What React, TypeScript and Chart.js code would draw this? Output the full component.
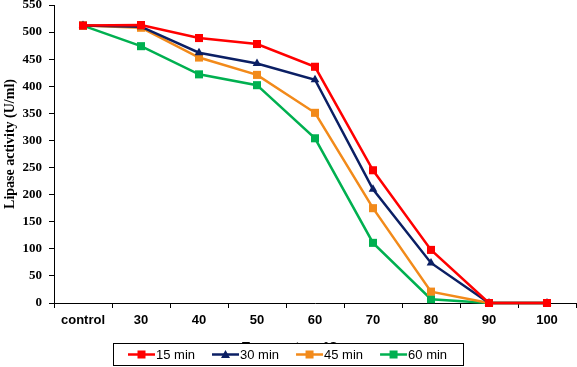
import React, { useEffect, useRef } from "react";
import { Chart, registerables } from "chart.js";

Chart.register(...registerables);

const categories = ["control", "30", "40", "50", "60", "70", "80", "90", "100"];
const seriesNames = ["15 min", "30 min", "45 min", "60 min"];
const min15 = [512, 513, 489, 478, 436, 245, 98, 0, 0];
const min30 = [512, 510, 462, 442, 412, 210, 74, 0, 0];
const min45 = [512, 508, 453, 421, 351, 175, 21, 0, 0];
const min60 = [512, 474, 422, 402, 304, 111, 7, 0, 0];
const colors = ["#FF0000", "#0B1F64", "#F28A1A", "#00B050"];
const pointStyles = ["rect", "triangle", "rect", "rect"];
const xTitle = "Temperature °C";
const yTitle = "Lipase activity (U/ml)";

const overlayPlugin = {
  id: "overlay",
  afterDraw(chart: any) {
    const ctx = chart.ctx;
    ctx.save();
    ctx.fillStyle = "#000";
    ctx.font = "bold 14px 'Liberation Serif', 'Times New Roman', serif";
    ctx.textAlign = "center";
    ctx.textBaseline = "middle";
    ctx.translate(10, 144);
    ctx.rotate(-Math.PI / 2);
    ctx.fillText(yTitle, 0, 0);
    ctx.restore();

    ctx.save();
    ctx.fillStyle = "#000";
    ctx.font = "bold 13px 'Liberation Sans', Arial, sans-serif";
    ctx.textAlign = "center";
    ctx.textBaseline = "alphabetic";
    ctx.fillText(xTitle, 290, 351);

    const bx = 113, by = 343, bw = 350, bh = 23;
    ctx.fillStyle = "#fff";
    ctx.fillRect(bx, by, bw, bh);
    ctx.strokeStyle = "#000";
    ctx.lineWidth = 1;
    ctx.strokeRect(bx + 0.5, by + 0.5, bw, bh - 1);

    ctx.font = "13px 'Liberation Sans', Arial, sans-serif";
    ctx.textAlign = "left";
    ctx.textBaseline = "middle";
    let x = 128;
    const cy = by + bh / 2;
    chart.data.datasets.forEach((ds: any) => {
      ctx.strokeStyle = ds.borderColor;
      ctx.lineWidth = 2.5;
      ctx.beginPath();
      ctx.moveTo(x, cy);
      ctx.lineTo(x + 27, cy);
      ctx.stroke();
      ctx.fillStyle = ds.borderColor;
      const mx = x + 13.5;
      if (ds.pointStyle === "triangle") {
        ctx.beginPath();
        ctx.moveTo(mx, cy - 4.5);
        ctx.lineTo(mx + 4.5, cy + 3.5);
        ctx.lineTo(mx - 4.5, cy + 3.5);
        ctx.closePath();
        ctx.fill();
      } else {
        ctx.fillRect(mx - 4, cy - 4, 8, 8);
      }
      ctx.fillStyle = "#000";
      ctx.fillText(ds.label, x + 28, cy + 0.5);
      const w = ctx.measureText(ds.label).width;
      x = x + 28 + w + 17;
    });
    ctx.restore();
  },
};

export default function App() {
  const ref = useRef<HTMLCanvasElement>(null);
  useEffect(() => {
    document.body.style.margin = "0";
    const all = [min15, min30, min45, min60];
    const chart = new Chart(ref.current!, {
      type: "line",
      data: {
        labels: categories,
        datasets: all.map((d, i) => ({
          label: seriesNames[i],
          data: d,
          borderColor: colors[i],
          backgroundColor: colors[i],
          borderWidth: 2.5,
          pointStyle: pointStyles[i] as any,
          pointRadius: pointStyles[i] === "triangle" ? 5 : 5.7,
          pointBorderWidth: 0,
          tension: 0,
          fill: false,
          clip: false as any,
        })),
      },
      options: {
        responsive: false,
        animation: false,
        devicePixelRatio: 1,
        layout: { autoPadding: false, padding: { top: 5, right: 1, left: 0, bottom: 0 } },
        plugins: {
          legend: { display: false },
          tooltip: { enabled: false },
          title: { display: false },
        },
        scales: {
          x: {
            type: "category",
            offset: true,
            grid: {
              display: true,
              offset: true,
              drawOnChartArea: false,
              drawTicks: true,
              tickLength: 5,
              color: "#000",
            },
            border: { display: true, color: "#000", width: 1 },
            ticks: {
              color: "#000",
              padding: 5,
              maxRotation: 0,
              autoSkip: false,
              font: { family: "'Liberation Sans', Arial, sans-serif", size: 13, weight: "bold" },
            },
            afterFit(scale: any) {
              scale.height = 64;
              scale.paddingLeft = 0;
              scale.paddingRight = 0;
            },
          },
          y: {
            min: 0,
            max: 550,
            ticks: {
              stepSize: 50,
              color: "#000",
              padding: 7,
              font: { family: "'Liberation Serif', 'Times New Roman', serif", size: 13, weight: "bold" },
            },
            grid: {
              display: true,
              drawOnChartArea: false,
              drawTicks: true,
              tickLength: 5,
              color: "#000",
            },
            border: { display: true, color: "#000", width: 1 },
            afterFit(scale: any) {
              scale.width = 54;
              scale.paddingTop = 0;
              scale.paddingBottom = 0;
            },
          },
        },
      },
      plugins: [overlayPlugin],
    });
    return () => chart.destroy();
  }, []);
  return <canvas ref={ref} width={577} height={367} style={{ display: "block" }} />;
}
